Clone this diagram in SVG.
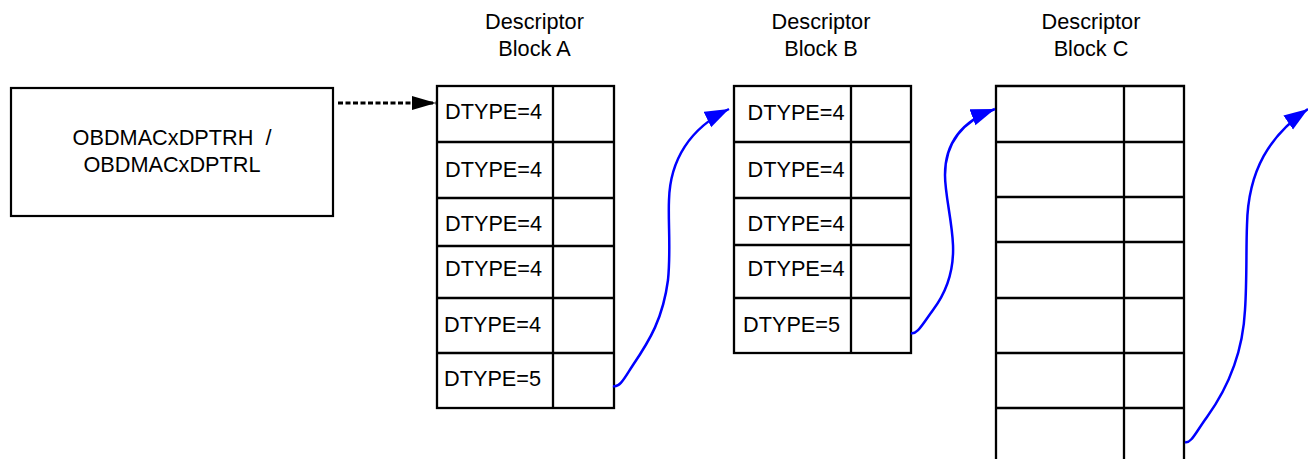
<svg xmlns="http://www.w3.org/2000/svg" width="1308" height="459" viewBox="0 0 1308 459">
<style>
  text { font-family: "Liberation Sans", Arial, sans-serif; font-size: 21.7px; fill: #000; white-space: pre; }
  .title { text-anchor: middle; }
  .box { fill: #fff; stroke: #000; stroke-width: 2.2; }
  .grid { fill: none; stroke: #000; stroke-width: 2.3; }
  .link { fill: none; stroke: #0000ff; stroke-width: 2.5; marker-end: url(#blueHead); }
  .ptr { fill: none; stroke: #000; stroke-width: 3; stroke-dasharray: 5 2.5; marker-end: url(#blackHead); }
</style>
<defs>
  <marker id="blueHead" markerUnits="userSpaceOnUse" markerWidth="26" markerHeight="18" refX="24" refY="8.5" orient="auto" viewBox="0 0 26 18">
    <path d="M0,0 L24,8.5 L0,17 z" fill="#0000ff"/>
  </marker>
  <marker id="blackHead" markerUnits="userSpaceOnUse" markerWidth="26" markerHeight="16" refX="24" refY="7" orient="auto" viewBox="0 0 26 16">
    <path d="M0,0 L24,7 L0,14 z" fill="#000"/>
  </marker>
</defs>

<g id="register">
  <rect class="box" x="11" y="88" width="322" height="128"/>
  <text x="172" y="145" text-anchor="middle" xml:space="preserve">OBDMACxDPTRH  /</text>
  <text x="172" y="172" text-anchor="middle">OBDMACxDPTRL</text>
</g>

<g id="blockA">
  <text class="title" x="534.5" y="29">Descriptor</text>
  <text class="title" x="534.5" y="55.5">Block A</text>
  <rect class="grid" x="437" y="86" width="177" height="322"/>
  <path class="grid" d="M553,86 V408 M437,142 H614 M437,198 H614 M437,246 H614 M437,298 H614 M437,353 H614"/>
  <text x="445" y="119">DTYPE=4</text>
  <text x="445" y="176.5">DTYPE=4</text>
  <text x="445" y="230.5">DTYPE=4</text>
  <text x="445" y="276">DTYPE=4</text>
  <text x="444" y="331.5">DTYPE=4</text>
  <text x="444" y="386">DTYPE=5</text>
</g>

<g id="blockB">
  <text class="title" x="821" y="29">Descriptor</text>
  <text class="title" x="821" y="55.5">Block B</text>
  <rect class="grid" x="734" y="86" width="177" height="267"/>
  <path class="grid" d="M851,86 V353 M734,142 H911 M734,198 H911 M734,245 H911 M734,298 H911"/>
  <text x="747.5" y="120">DTYPE=4</text>
  <text x="747.5" y="176.5">DTYPE=4</text>
  <text x="747.5" y="231">DTYPE=4</text>
  <text x="747.5" y="276">DTYPE=4</text>
  <text x="743" y="331.5">DTYPE=5</text>
</g>

<g id="blockC">
  <text class="title" x="1091" y="29">Descriptor</text>
  <text class="title" x="1091" y="55.5">Block C</text>
  <path class="grid" d="M996,470 V86 H1184 V470 M1124,86 V470 M996,142 H1184 M996,197 H1184 M996,242 H1184 M996,298 H1184 M996,353 H1184 M996,408 H1184"/>
</g>

<g id="connectors">
  <path class="ptr" d="M338,103 H436"/>
  <path class="link" d="M613,386 C620,388 625,377 633,365 C650,340 663,318 668,280 C671,250 668,222 669,200 C670,160 690,128 729,109"/>
  <path class="link" d="M911,333 C917,335 922,325 933,310 C948,290 954,270 953,245 C952,220 945,195 945,175 C945,140 965,120 995,109"/>
  <path class="link" d="M1185,442 C1191,444 1196,432 1207,417 C1230,385 1243,350 1245,310 C1247,280 1246,250 1247,225 C1248,170 1270,135 1308,109"/>
</g>
</svg>
